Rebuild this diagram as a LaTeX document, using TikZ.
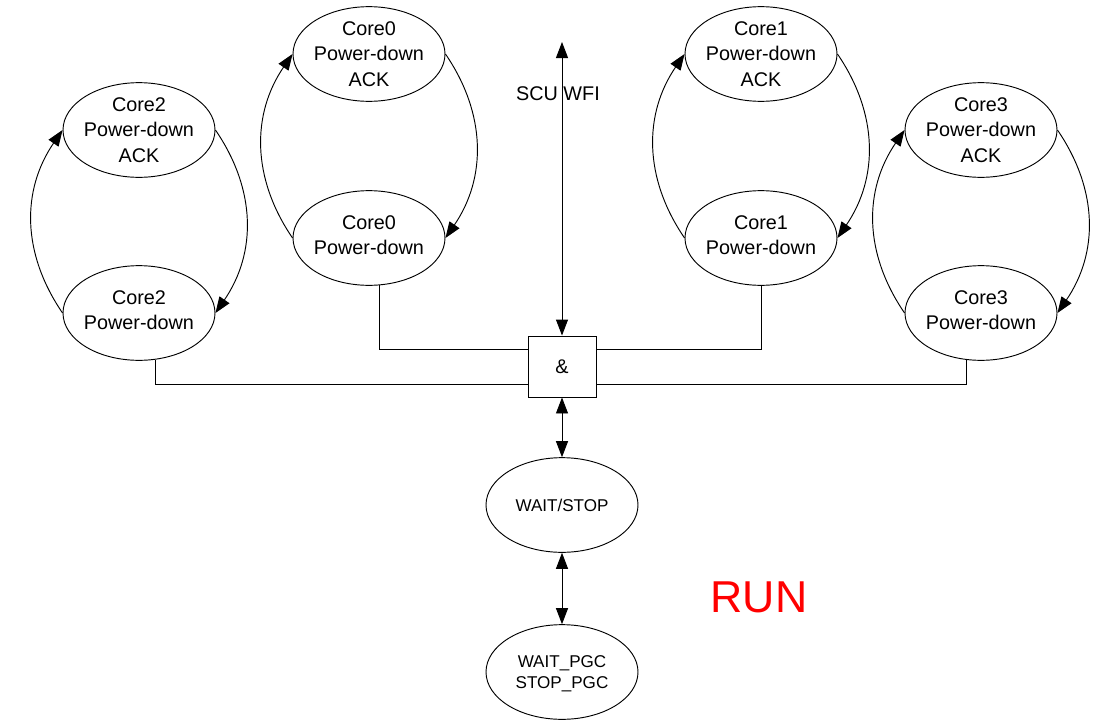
\documentclass[tikz,border=0pt]{standalone}
\usepackage{fontspec}
\setmainfont{Liberation Sans}
\usetikzlibrary{shapes.geometric,arrows.meta}
\begin{document}
\begin{tikzpicture}[x=0.75pt,y=-0.75pt,
  wire/.style={line width=0.7pt},
  st/.style={ellipse,draw,wire,minimum width=114pt,minimum height=71pt,inner sep=0pt},
  lbl/.style={align=center,font=\fontsize{14.85pt}{19.1pt}\selectfont},
  lbltwo/.style={lbl,yshift=2.2pt},
  lbls/.style={align=center,font=\fontsize{12.8pt}{16pt}\selectfont},
  arr/.style={wire,-{Triangle[length=12pt,width=9pt]}},
  darr/.style={wire,{Triangle[length=12pt,width=9pt]}-{Triangle[length=12pt,width=9pt]}}]
\useasboundingbox (0,0) rectangle (1118,728);
% state ellipses
\node[st,label={[lbl]center:Core2\\Power-down\\ACK}] (c2a) at (139,130) {};
\node[st,label={[lbltwo]center:Core2\\Power-down}] (c2p) at (139,313) {};
\node[st,label={[lbl]center:Core0\\Power-down\\ACK}] (c0a) at (369,54) {};
\node[st,label={[lbltwo]center:Core0\\Power-down}] (c0p) at (369,238) {};
\node[st,label={[lbl]center:Core1\\Power-down\\ACK}] (c1a) at (761,54) {};
\node[st,label={[lbltwo]center:Core1\\Power-down}] (c1p) at (761,238) {};
\node[st,label={[lbl]center:Core3\\Power-down\\ACK}] (c3a) at (981,130) {};
\node[st,label={[lbltwo]center:Core3\\Power-down}] (c3p) at (981,313) {};
\node[draw,wire,minimum width=51pt,minimum height=45.75pt,inner sep=0pt,lbl] (amp) at (562,366.5) {\&};
\node[st,label={[lbls]center:WAIT/STOP}] (ws) at (562,505) {};
\node[st,label={[lbls,yshift=-1.5pt]center:WAIT\_PGC\\STOP\_PGC}] (pgc) at (562,672) {};
\node[lbl] (scu) at (558,94) {SCU WFI};
\coordinate (top) at (562,42);
\node[text=red,font=\fontsize{33.5pt}{40pt}\selectfont] (run) at (759,597) {RUN};
% loops
\foreach \a/\p in {c2a/c2p,c0a/c0p,c1a/c1p,c3a/c3p}{
  \draw[arr] (\p.west) .. controls +(-41,-60) and +(-41,60) .. (\a.west);
  \draw[arr] (\a.east) .. controls +(41,60) and +(41,-60) .. (\p.east);
}
% wires to AND
\draw[wire] (c0p.-78) |- ([yshift=13.1pt]amp.west);
\draw[wire] (c2p.-70) |- ([yshift=-13.1pt]amp.west);
\draw[wire] (c1p.south) |- ([yshift=13.1pt]amp.east);
\draw[wire] (c3p.-107) |- ([yshift=-13.1pt]amp.east);
\draw[darr] (top) -- (amp.north);
\draw[darr] (amp.south) -- (ws.north);
\draw[darr] (ws.south) -- (pgc.north);
\end{tikzpicture}
\end{document}
